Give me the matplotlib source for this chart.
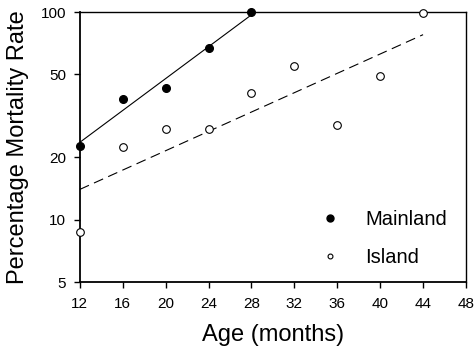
import numpy as np
import matplotlib
matplotlib.use("Agg")
import matplotlib.pyplot as plt
from matplotlib.ticker import FixedLocator, FixedFormatter, NullLocator

plt.rcParams['font.family'] = ['Liberation Sans', 'DejaVu Sans']

mainland_age = [12, 16, 20, 24, 28]
mainland_rate = [22.6, 38.2, 43.0, 67.0, 100.0]
island_age = [12, 16, 20, 24, 28, 32, 36, 40, 44]
island_rate = [8.7, 22.4, 27.4, 27.4, 40.9, 55.0, 28.6, 49.3, 99.0]
xticks = [12, 16, 20, 24, 28, 32, 36, 40, 44, 48]
yticks = [5, 10, 20, 50, 100]

fig = plt.figure(figsize=(4.75, 3.53), dpi=100)
ax = fig.add_axes([0.168, 0.201, 0.813, 0.765])

# log-linear regression lines
for ages, rates, ls in [(mainland_age, mainland_rate, '-'), (island_age, island_rate, (0, (9, 5)))]:
    a = np.array(ages, float)
    b, c = np.polyfit(a, np.log10(rates), 1)
    xs = np.array([a.min(), a.max()])
    ax.plot(xs, 10 ** (b * xs + c), color='black', lw=0.8, ls=ls, clip_on=False)

ax.plot(mainland_age, mainland_rate, 'o', ms=5.5, mfc='black', mec='black', clip_on=False, zorder=5, label='Mainland')
ax.plot(island_age, island_rate, 'o', ms=5.5, mfc='white', mec='black', mew=0.8, clip_on=False, zorder=5, label='Island')

ax.set_yscale('log')
ax.set_xlim(12, 48)
ax.set_ylim(5, 100)
ax.xaxis.set_major_locator(FixedLocator(xticks))
ax.yaxis.set_major_locator(FixedLocator(yticks))
ax.yaxis.set_major_formatter(FixedFormatter([str(t) for t in yticks]))
ax.yaxis.set_minor_locator(NullLocator())
ax.tick_params(direction='out', length=4, width=1, labelsize=11, color='black')
ax.tick_params(axis='x', pad=7)
ax.tick_params(axis='y', pad=6)
for s in ax.spines.values():
    s.set_linewidth(1.0)
ax.spines['left'].set_linewidth(1.3)
ax.spines['bottom'].set_linewidth(1.3)

ax.set_xlabel('Age (months)', fontsize=17, labelpad=9)
ax.set_ylabel('Percentage Mortality Rate', fontsize=17, labelpad=8)

leg = ax.legend(loc='center left', frameon=False, fontsize=14.5, handlelength=2,
                handletextpad=0.75, labelspacing=0.95, bbox_to_anchor=(0.549, 0.161))
leg.legend_handles[0].set_markersize(5)
leg.legend_handles[1].set_markersize(3.5)

fig.savefig('out.png', dpi=100)
